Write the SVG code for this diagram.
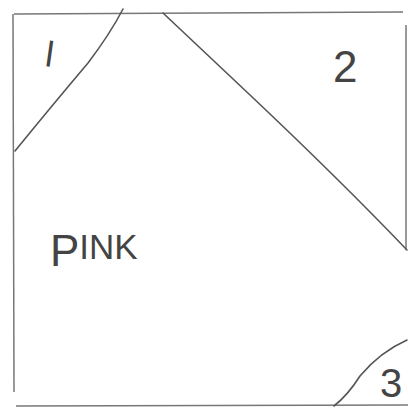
<svg xmlns="http://www.w3.org/2000/svg" width="408" height="408" viewBox="0 0 408 408">
<style>
.edge{fill:none;stroke:#555;stroke-width:1.6;stroke-linecap:round}
.frame{fill:none;stroke:#777;stroke-width:1.5}
.lbl{font-family:"Liberation Sans",Arial,sans-serif;fill:#444}
</style>
<rect width="408" height="408" fill="#fff"/>
<g id="frame">
<path class="frame" d="M14 14 L403 12"/>
<path class="frame" d="M13 14 L14 392"/>
<path class="frame" d="M406 25 L406 250"/>
<path class="frame" d="M16 406 L408 405"/>
</g>
<g id="connectors">
<path class="edge" d="M123 9 Q110 34 88 63 Q50 108 15 151"/>
<path class="edge" d="M163 13 L250 95 Q340 180 407 250"/>
<path class="edge" d="M407 340 Q380 352 360 376 Q348 395 334 406"/>
</g>
<g id="region1"><text class="lbl" x="46" y="67" font-size="36" transform="rotate(8 52 52)">l</text></g>
<g id="region2"><text class="lbl" x="333" y="82" font-size="44">2</text></g>
<g id="region3"><text class="lbl" x="380" y="397" font-size="40">3</text></g>
<g id="pink"><text class="lbl" x="50" y="266" font-size="44">P<tspan font-size="35" dy="-7">INK</tspan></text></g>
</svg>
